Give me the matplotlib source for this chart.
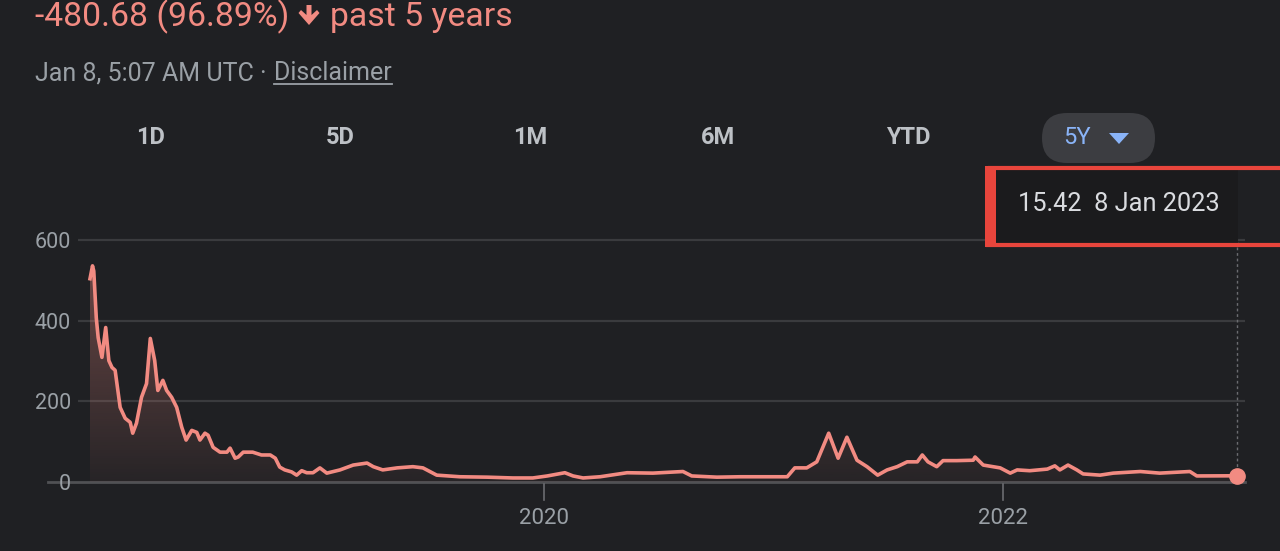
import numpy as np
import pandas as pd
import matplotlib
matplotlib.use("Agg")
import matplotlib.pyplot as plt
import matplotlib.dates as mdates
from matplotlib.patches import FancyBboxPatch, Rectangle, Polygon

# ── data (5Y close) ──
dates = [
    "2018-01-08", "2018-01-12", "2018-01-14", "2018-01-18", "2018-01-21", "2018-01-27",
    "2018-02-02", "2018-02-07", "2018-02-12", "2018-02-17", "2018-02-25", "2018-03-05",
    "2018-03-13", "2018-03-17", "2018-03-23", "2018-03-31", "2018-04-08", "2018-04-14",
    "2018-04-21", "2018-04-26", "2018-05-04", "2018-05-10", "2018-05-18", "2018-05-26",
    "2018-06-03", "2018-06-10", "2018-06-19", "2018-06-27", "2018-07-02", "2018-07-10",
    "2018-07-15", "2018-07-23", "2018-08-03", "2018-08-14", "2018-08-19", "2018-08-27",
    "2018-09-01", "2018-09-09", "2018-09-24", "2018-10-08", "2018-10-22", "2018-10-30",
    "2018-11-06", "2018-11-14", "2018-11-25", "2018-12-03", "2018-12-11", "2018-12-19",
    "2018-12-29", "2019-01-09", "2019-01-20", "2019-02-10", "2019-03-03", "2019-03-25",
    "2019-04-04", "2019-04-19", "2019-05-12", "2019-06-06", "2019-06-22", "2019-07-14",
    "2019-08-20", "2019-10-02", "2019-11-12", "2019-12-14", "2020-01-06", "2020-02-03",
    "2020-02-16", "2020-03-03", "2020-03-30", "2020-05-12", "2020-06-22", "2020-08-09",
    "2020-08-23", "2020-10-02", "2020-11-08", "2020-12-21", "2021-01-22", "2021-02-03",
    "2021-02-22", "2021-03-10", "2021-03-29", "2021-04-13", "2021-04-27", "2021-05-13",
    "2021-05-29", "2021-06-15", "2021-06-30", "2021-07-16", "2021-08-01", "2021-08-17",
    "2021-08-25", "2021-09-03", "2021-09-17", "2021-09-27", "2021-10-19", "2021-11-14",
    "2021-11-17", "2021-11-30", "2021-12-27", "2022-01-12", "2022-01-23", "2022-02-12",
    "2022-03-12", "2022-03-24", "2022-04-01", "2022-04-14", "2022-04-28", "2022-05-08",
    "2022-06-04", "2022-06-25", "2022-08-07", "2022-09-07", "2022-10-25", "2022-11-05",
    "2023-01-08",
]
prices = [
    504, 536, 523, 407, 358, 309,
    383, 301, 284, 277, 185, 158,
    148, 121, 146, 210, 244, 356,
    301, 227, 252, 227, 210, 185,
    136, 104, 128, 123, 104, 121,
    116, 86, 74, 74, 84, 59,
    62, 74, 74, 67, 67, 59,
    37, 30, 25, 17, 28, 23,
    23, 35, 22, 30, 42, 47,
    38, 30, 35, 38, 35, 17,
    13, 12, 10, 10, 15, 23,
    15, 10, 13, 23, 22, 26,
    15, 12, 13, 13, 13, 35,
    35, 50, 121, 59, 111, 54,
    38, 17, 30, 38, 50, 50,
    67, 50, 38, 53, 53, 54,
    62, 42, 35, 22, 30, 28,
    32, 40, 30, 42, 30, 20,
    17, 22, 26, 22, 26, 15,
    15.42,
]
y_ticks = [0, 200, 400, 600]
x_ticks = ["2020-01-01", "2022-01-01"]
x_tick_labels = ["2020", "2022"]
ranges = ["1D", "5D", "1M", "6M", "YTD"]
range_x = [150, 340, 530, 718, 908]

BG = "#1f2023"
RED = "#f28b82"
GREY = "#9aa0a6"
W, H = 1280, 551

plt.rcParams["font.family"] = ["Roboto", "DejaVu Sans"]

fig = plt.figure(figsize=(W / 100, H / 100), dpi=100, facecolor=BG)

# chart axes placed in pixel space: x 78..1245, y 230..490
ax = fig.add_axes([78 / W, 1 - 490 / H, (1245 - 78) / W, 260 / H])
ax.set_facecolor(BG)
for s in ax.spines.values():
    s.set_visible(False)

d = pd.to_datetime(dates)
xn = mdates.date2num(d)
px_day = 1147 / (xn[-1] - xn[0])          # pixels per day, from the screenshot
ax.set_xlim(xn[0] - 12 / px_day, xn[-1] + 8 / px_day)
ax.set_ylim((482 - 490) / 0.4033, (482 - 230) / 0.4033)

# grid
for v in y_ticks[1:]:
    ax.axhline(v, color="#3a3b3e", lw=1.6, zorder=0)
ax.plot([xn[0] - 42 / px_day, ax.get_xlim()[1]], [0, 0], color="#505154", lw=2.0,
        zorder=1, clip_on=False)

# gradient fill under the line
poly = Polygon(np.column_stack([np.r_[xn[0], xn, xn[-1]], np.r_[0, prices, 0]]),
               closed=True, facecolor="none", edgecolor="none")
ax.add_patch(poly)
grad = np.zeros((256, 1, 4))
grad[:, 0, :3] = matplotlib.colors.to_rgb(RED)
grad[:, 0, 3] = np.linspace(0.04, 0.36, 256)
im = ax.imshow(grad, aspect="auto", origin="lower",
               extent=[xn[0], xn[-1], 0, max(prices)], zorder=1)
im.set_clip_path(poly)

ax.plot(xn, prices, color=RED, lw=2.6, solid_joinstyle="round", zorder=3)
ax.plot(xn[-1], prices[-1], "o", ms=11, color=RED, mec=RED, zorder=4, clip_on=False)
ax.plot([xn[-1], xn[-1]], [prices[-1] + 10, 600], color="#6b6c70", lw=1.0,
        ls=(0, (2, 2)), zorder=2)

ax.set_yticks(y_ticks)
ax.set_yticklabels([str(v) for v in y_ticks])
ax.tick_params(axis="y", length=0, pad=5, labelsize=15.5, labelcolor=GREY)
xt = mdates.date2num(pd.to_datetime(x_ticks))
ax.set_xticks(xt)
ax.set_xticklabels(x_tick_labels)
ax.tick_params(axis="x", length=0, pad=13, labelsize=16, labelcolor=GREY)
for t in xt:
    ax.plot([t, t], [-4, -45], color="#6b6c70", lw=1.2, clip_on=False, zorder=1)

# overlay axes in screen pixels for the page furniture
ov = fig.add_axes([0, 0, 1, 1], facecolor="none")
ov.set_xlim(0, W)
ov.set_ylim(H, 0)
ov.axis("off")

# header
ov.text(35, 26, "-480.68 (96.89%)", color=RED, fontsize=24.3, va="baseline")
# heavy down arrow
ov.add_patch(Polygon([[306.5, 5], [311.5, 5], [311.5, 15], [317, 10], [319.5, 13],
                      [309, 25], [298.5, 13], [301, 10], [306.5, 15]],
                     closed=True, facecolor=RED, edgecolor="none"))
ov.text(330, 26, "past 5 years", color=RED, fontsize=24.3, va="baseline")

stamp = ov.text(35, 80, "Jan 8, 5:07 AM UTC \u00b7 ", color=GREY, fontsize=18,
                va="baseline")
fig.canvas.draw()
inv = ov.transData.inverted()
x_end = inv.transform(stamp.get_window_extent().p1)[0]
disc = ov.text(x_end + 1, 80, "Disclaimer", color=GREY, fontsize=18, va="baseline")
fig.canvas.draw()
bb = disc.get_window_extent()
dx0 = inv.transform(bb.p0)[0]
dx1 = inv.transform(bb.p1)[0]
ov.plot([dx0, dx1], [84, 84], color=GREY, lw=1.3)

# range selector
for lab, x in zip(ranges, range_x):
    ov.text(x, 138, lab, color="#bdc1c6", fontsize=17, fontweight="bold",
            ha="center", va="center")
ov.add_patch(FancyBboxPatch((1042, 113), 113, 50,
                            boxstyle="round,pad=0,rounding_size=25",
                            facecolor="#3c3d41", edgecolor="none"))
ov.text(1077, 138, "5Y", color="#8ab4f8", fontsize=17, ha="center", va="center")
ov.add_patch(Polygon([[1109, 133], [1129, 133], [1119, 144]], closed=True,
                     facecolor="#8ab4f8", edgecolor="none"))

# highlighted tooltip
ov.add_patch(Rectangle((996, 170), 242, 73, facecolor="#1b1b1d", edgecolor="none"))
ov.add_patch(Rectangle((988, 168), 300, 77, facecolor="none", edgecolor="#e8453c",
                       lw=3.0))
ov.add_patch(Rectangle((985, 166), 11, 81, facecolor="#e8453c", edgecolor="none"))
ov.text(1018, 204, "15.42  8 Jan 2023", color="#dadce0", fontsize=18.3, va="center")

fig.savefig("out.png", dpi=100, facecolor=BG)
